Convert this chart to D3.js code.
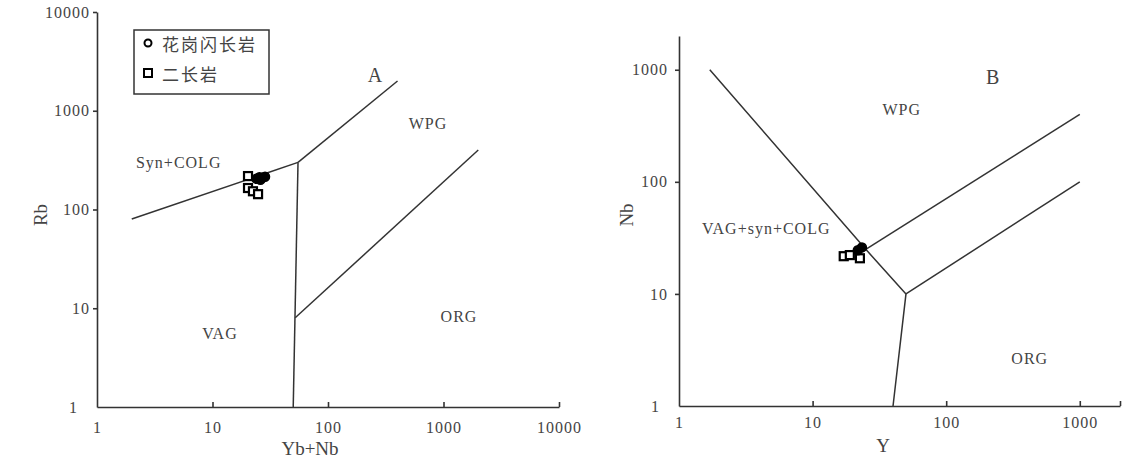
<!DOCTYPE html>
<html><head><meta charset="utf-8">
<script src="https://cdn.jsdelivr.net/npm/d3@7"></script>
<style>
body{margin:0;background:#fff;}
svg text{font-family:"Liberation Serif","DejaVu Serif",serif;fill:#444;}
.cjk{font-family:"Noto Sans CJK SC",sans-serif !important;}
</style></head>
<body><svg id="c" width="1134" height="461"></svg>
<script>
// ---- Data ----
// Diagram A: Rb vs (Yb+Nb)
const aTicks = [1, 10, 100, 1000, 10000];
const aBoundaries = [
  [[2, 80], [55, 300]],            // VAG / Syn+COLG
  [[55, 300], [400, 2000]],        // Syn+COLG / WPG
  [[50, 1], [55, 300]],            // VAG / ORG
  [[52, 8], [2000, 400]]           // WPG / ORG
];
const aGranodiorite = [[24, 205], [25.5, 212], [27, 210], [28.5, 215], [26, 200]]; // 花岗闪长岩
const aMonzonite = [[20.3, 218], [20.3, 165], [22.4, 153], [24.8, 143]];           // 二长岩
const aFields = [["Syn+COLG", 5.1, 300], ["VAG", 11.6, 5.6], ["WPG", 734, 749], ["ORG", 1362, 8.3], ["A", 255, 2290]];

// Diagram B: Nb vs Y
const bTicks = [1, 10, 100, 1000];
const bBoundaries = [
  [[1.7, 1000], [25, 25], [50, 10], [40, 1]],
  [[25, 25], [1000, 400]],
  [[50, 10], [1000, 100]]
];
const bGranodiorite = [[23.4, 26], [21.8, 24.5]];
const bMonzonite = [[17.1, 21.7], [19.0, 22.2], [22.6, 20.8]];
const bFields = [["WPG", 46.5, 441], ["VAG+syn+COLG", 4.5, 38.5], ["ORG", 422, 2.67], ["B", 223, 868]];

const legendLabels = ["花岗闪长岩", "二长岩"];

// ---- Drawing ----
const svg = d3.select("#c");
const ink = "#333";

function panel(cfg) {
  const x = d3.scaleLog().domain(cfg.xDomain).range(cfg.xRange);
  const y = d3.scaleLog().domain(cfg.yDomain).range(cfg.yRange);
  const g = svg.append("g");
  const fmt = d3.format("d");

  const ax = g.append("g").attr("transform", `translate(0,${cfg.yRange[0]})`)
    .call(d3.axisBottom(x).tickValues(cfg.xTickVals).tickFormat(d => cfg.xTicks.includes(d) ? fmt(d) : "")
      .tickSizeInner(-5).tickSizeOuter(0).tickPadding(cfg.xPad));
  const ay = g.append("g").attr("transform", `translate(${cfg.xRange[0]},0)`)
    .call(d3.axisLeft(y).tickValues(cfg.yTicks).tickFormat(fmt).tickSizeInner(4).tickSizeOuter(0).tickPadding(cfg.yPad));
  [ax, ay].forEach(a => {
    a.selectAll("path,line").attr("stroke", ink).attr("stroke-width", 1.6);
    a.selectAll("text").style("font-size", "16px").style("letter-spacing", "1px").attr("fill", "#444");
  });
  ax.selectAll(".tick").filter(d => d === cfg.xDomain[0]).select("line").remove();
  const y0 = ay.selectAll(".tick").filter(d => d === cfg.yDomain[0]);
  y0.select("line").remove();
  y0.select("text").attr("dx", cfg.oneShift);

  const line = d3.line().x(d => x(d[0])).y(d => y(d[1]));
  g.selectAll(".bd").data(cfg.bounds).join("path")
    .attr("d", line).attr("fill", "none").attr("stroke", ink).attr("stroke-width", 1.5);

  g.selectAll(".fl").data(cfg.fields).join("text")
    .attr("x", d => x(d[1])).attr("y", d => y(d[2]))
    .attr("text-anchor", "middle").attr("dominant-baseline", "central")
    .style("letter-spacing", d => d[0].length === 1 ? "0px" : "1px")
    .style("font-size", d => d[0].length === 1 ? "20px" : "16px").text(d => d[0]);

  g.selectAll(".sq").data(cfg.squares).join("rect")
    .attr("x", d => x(d[0]) - 4).attr("y", d => y(d[1]) - 4).attr("width", 8).attr("height", 8)
    .attr("fill", "#fff").attr("stroke", "#000").attr("stroke-width", 2.2);
  g.selectAll(".ci").data(cfg.circles).join("circle")
    .attr("cx", d => x(d[0])).attr("cy", d => y(d[1])).attr("r", 4.5)
    .attr("fill", "#000").attr("stroke", "#000").attr("stroke-width", 1.5);

  g.append("text").attr("transform", `translate(${cfg.ylab[1]},${cfg.ylab[2]}) rotate(-90)`)
    .attr("text-anchor", "middle").attr("dominant-baseline", "central").style("font-size", "19px").text(cfg.ylab[0]);
  g.append("text").attr("x", cfg.xlab[1]).attr("y", cfg.xlab[2])
    .attr("text-anchor", "middle").attr("dominant-baseline", "central").style("font-size", "19px").text(cfg.xlab[0]);
  return {x, y, g};
}

panel({
  xDomain: [1, 10000], xRange: [97, 559], yDomain: [1, 10000], yRange: [407, 12],
  xTicks: aTicks, xTickVals: aTicks, yTicks: aTicks, xPad: 15, yPad: 3, oneShift: -12,
  bounds: aBoundaries, fields: aFields, squares: aMonzonite, circles: aGranodiorite,
  ylab: ["Rb", 40, 215], xlab: ["Yb+Nb", 310, 448]
});

panel({
  xDomain: [1, 2000], xRange: [679, 1120], yDomain: [1, 2000], yRange: [406, 36],
  xTicks: bTicks, xTickVals: [1, 10, 100, 1000, 2000], yTicks: bTicks, xPad: 11, yPad: 7, oneShift: -8,
  bounds: bBoundaries, fields: bFields, squares: bMonzonite, circles: bGranodiorite,
  ylab: ["Nb", 626, 215], xlab: ["Y", 883, 445]
});

// Legend (panel A)
const lg = svg.append("g");
lg.append("rect").attr("x", 134).attr("y", 30).attr("width", 135).attr("height", 64)
  .attr("fill", "#fff").attr("stroke", ink).attr("stroke-width", 1.5);
lg.append("circle").attr("cx", 148).attr("cy", 43).attr("r", 3.5).attr("fill", "#fff").attr("stroke", "#000").attr("stroke-width", 2);
lg.append("rect").attr("x", 144).attr("y", 69).attr("width", 8).attr("height", 8).attr("fill", "#fff").attr("stroke", "#000").attr("stroke-width", 2);
lg.selectAll(".lt").data(legendLabels).join("text")
  .attr("class", "cjk").attr("x", 162).attr("y", (d, i) => 43 + i * 30)
  .attr("dominant-baseline", "central").style("font-size", "17px").style("letter-spacing", "2px")
  .attr("fill", "#777").text(d => d);
</script></body></html>
